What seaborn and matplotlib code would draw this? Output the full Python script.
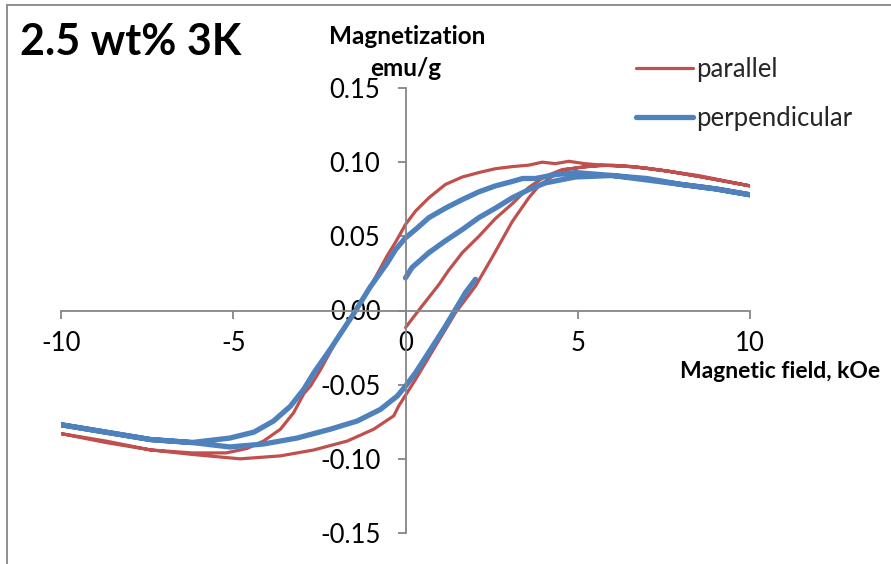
import matplotlib
matplotlib.use("Agg")
import matplotlib.pyplot as plt
import seaborn as sns
import pandas as pd
from matplotlib.patches import Rectangle

# ---- data (field in kOe, magnetization in emu/g), in measurement order ----
# parallel: virgin curve -> +10 -> -10 -> +10
par_field = [0.0, 0.48, 0.97, 1.25, 1.65, 2.13, 2.61, 3.1, 3.58, 4.06, 4.55, 4.93, 5.7, 6.6, 7.6, 8.6, 10.0,
             8.6, 7.6, 6.6, 5.7, 5.2, 4.74, 4.35, 3.97, 3.58, 3.1, 2.61, 2.13, 1.65, 1.16, 0.68, 0.29,
             0.0, -0.29, -0.53, -1.02, -1.5, -2.0, -2.47, -2.76, -2.95, -3.25, -3.63, -4.12, -4.6,
             -5.2, -6.2, -7.4, -8.7, -10.0,
             -8.7, -7.4, -6.2, -4.8, -3.63, -2.66, -1.69, -0.92, -0.34, -0.2, 0.29, 0.87, 1.45,
             2.03, 2.52, 3.1, 3.58, 3.87, 4.26, 4.64, 5.2, 6.0, 7.0, 8.5, 10.0]
par_mag = [-0.0115, 0.003, 0.0175, 0.027, 0.039, 0.050, 0.062, 0.072, 0.083, 0.0905, 0.095, 0.096,
           0.098, 0.097, 0.094, 0.090, 0.084,
           0.090, 0.094, 0.097, 0.098, 0.099, 0.1006, 0.099, 0.100, 0.098, 0.097, 0.0956, 0.093,
           0.090, 0.085, 0.076, 0.067,
           0.058, 0.046, 0.037, 0.016, -0.002, -0.020, -0.040, -0.051, -0.056, -0.069, -0.080,
           -0.088, -0.093,
           -0.096, -0.096, -0.094, -0.088, -0.083,
           -0.089, -0.094, -0.097, -0.100, -0.098, -0.094, -0.088, -0.080, -0.071, -0.0645,
           -0.0465, -0.024, -0.0015,
           0.0164, 0.036, 0.060, 0.076, 0.084, 0.0905, 0.095, 0.097, 0.098, 0.096, 0.091, 0.084]

# perpendicular: virgin curve -> +10 -> -10 -> back up to ~2 kOe
perp_field = [0.0, 0.19, 0.68, 1.16, 1.65, 2.13, 2.61, 3.1, 3.58, 4.06, 4.93, 6.0, 7.0, 8.0, 9.0, 10.0,
              9.0, 8.0, 7.0, 6.0, 4.93, 4.35, 3.77, 3.4, 3.1, 2.61, 2.13, 1.65, 1.16, 0.68, 0.29,
              0.0, -0.29, -0.53, -1.02, -1.5, -2.18, -2.66, -2.95, -3.34, -3.83, -4.4, -5.1,
              -6.2, -7.4, -8.7, -10.0,
              -8.7, -7.4, -6.2, -5.1, -4.12, -3.15, -2.18, -1.4, -0.73, -0.24, 0.0, 0.29,
              0.68, 1.16, 1.45, 1.74, 2.03]
perp_mag = [0.022, 0.029, 0.039, 0.047, 0.0546, 0.0626, 0.069, 0.076, 0.0815, 0.086, 0.090,
            0.091, 0.089, 0.085, 0.082, 0.078,
            0.082, 0.085, 0.088, 0.091, 0.093, 0.0916, 0.089, 0.089, 0.087, 0.084, 0.080, 0.0748,
            0.069, 0.0626, 0.0546,
            0.049, 0.041, 0.032, 0.016, -0.002, -0.026, -0.042, -0.053, -0.0645, -0.0745, -0.082,
            -0.086, -0.089, -0.087, -0.082, -0.077,
            -0.082, -0.087, -0.089, -0.092, -0.090, -0.086, -0.080, -0.0745, -0.0667, -0.0577,
            -0.051, -0.042, -0.028, -0.0106, 0.0007, 0.012, 0.021]

x_ticks = [-10, -5, 0, 5, 10]
y_ticks = [-0.15, -0.10, -0.05, 0.00, 0.05, 0.10, 0.15]
y_tick_labels = ["-0.15", "-0.10", "-0.05", "0.00", "0.05", "0.10", "0.15"]

series_names = ["parallel", "perpendicular"]
series_colors = {"parallel": "#C0504D", "perpendicular": "#4F81BD"}

df_par = pd.DataFrame({"field": par_field, "mag": par_mag})
df_perp = pd.DataFrame({"field": perp_field, "mag": perp_mag})

sns.set_theme(style="white")
FONT = ["Lato", "DejaVu Sans"]
plt.rcParams["font.family"] = FONT

W, H = 891, 564
fig = plt.figure(figsize=(W / 100, H / 100), dpi=100)
ax = fig.add_axes([61 / W, 1 - 533 / H, (750 - 61) / W, (533 - 88) / H])

sns.lineplot(data=df_par, x="field", y="mag", sort=False, estimator=None,
             color=series_colors["parallel"], lw=2.3, label="parallel", ax=ax,
             solid_capstyle="round", solid_joinstyle="round")
sns.lineplot(data=df_perp, x="field", y="mag", sort=False, estimator=None,
             color=series_colors["perpendicular"], lw=3.8, label="perpendicular", ax=ax,
             solid_capstyle="round", solid_joinstyle="round")

ax.set_xlim(-10, 10)
ax.set_ylim(-0.15, 0.15)
ax.set_facecolor("none")
for s in ["top", "right"]:
    ax.spines[s].set_visible(False)
for s in ["left", "bottom"]:
    ax.spines[s].set_position(("data", 0))
    ax.spines[s].set_color("#868686")
    ax.spines[s].set_linewidth(1.3)

ax.set_xticks(x_ticks)
ax.set_xticklabels([str(t) for t in x_ticks])
ax.set_yticks(y_ticks)
ax.set_yticklabels(y_tick_labels)
ax.tick_params(axis="x", direction="out", length=6, width=1.3, color="#868686",
               labelsize=18.5, pad=9, bottom=True)
ax.tick_params(axis="y", direction="out", length=6, width=1.3, color="#868686",
               labelsize=18.5, pad=12, left=True)
for lab in ax.get_xticklabels() + ax.get_yticklabels():
    lab.set_color("black")
ax.set_xlabel("")
ax.set_ylabel("")
ax.grid(False)

leg = ax.legend(loc="upper left", bbox_to_anchor=(636 / W, 1 - 57 / H),
                bbox_transform=fig.transFigure, frameon=False, fontsize=18.5,
                handlelength=2.2, handletextpad=0.15, labelspacing=0.95,
                borderpad=0, borderaxespad=0)
for h in leg.get_lines():
    h.set_solid_capstyle("round")

fig.text(20 / W, 1 - 42 / H, "2.5 wt% 3K", fontsize=31, fontweight="bold",
         ha="left", va="center", color="black")
fig.text(407 / W, 1 - 37 / H, "Magnetization", fontsize=17.5, fontweight="bold",
         ha="center", va="center", color="black")
fig.text(406 / W, 1 - 69 / H, "emu/g", fontsize=17.5, fontweight="bold",
         ha="center", va="center", color="black")
fig.text(880 / W, 1 - 371 / H, "Magnetic field, kOe", fontsize=16.5, fontweight="bold",
         ha="right", va="center", color="black")

fig.patches.append(Rectangle((7 / W, -0.2), 1.2, 1.2 - 5 / H, transform=fig.transFigure,
                             fill=False, edgecolor="#868686", lw=1.3, figure=fig))

fig.savefig("out.png", dpi=100)
